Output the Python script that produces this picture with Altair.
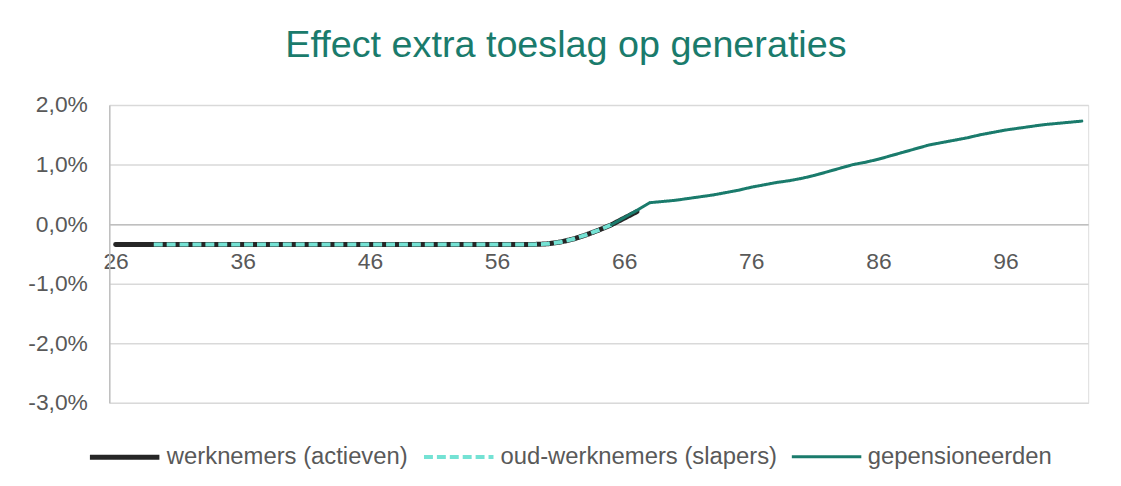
import altair as alt
import pandas as pd

# ---- data ----
series_names = ["werknemers (actieven)", "oud-werknemers (slapers)", "gepensioneerden"]

werknemers_ages = list(range(26, 68))
werknemers_vals = [-0.34] * 34 + [-0.33, -0.30, -0.25, -0.18, -0.10, -0.01, 0.10, 0.21]

slapers_ages = list(range(29, 66))
slapers_vals = [-0.34] * 31 + [-0.33, -0.30, -0.25, -0.18, -0.10, -0.01]

gepens_ages = list(range(65, 103))
gepens_vals = [-0.01, 0.11, 0.23, 0.36, 0.38, 0.40, 0.43, 0.46, 0.49, 0.53,
               0.57, 0.62, 0.66, 0.70, 0.73, 0.77, 0.82, 0.88, 0.94, 1.00,
               1.04, 1.09, 1.15, 1.21, 1.27, 1.33, 1.37, 1.41, 1.45, 1.50,
               1.54, 1.58, 1.61, 1.64, 1.67, 1.69, 1.71, 1.73]

x_ticks = [26, 36, 46, 56, 66, 76, 86, 96]
y_ticks = [-3, -2, -1, 0, 1, 2]

colors = ["#262626", "#74E2D4", "#1A7B6C"]
dashes = [[1, 0], [9, 4], [1, 0]]
widths = [5, 3, 3.5]

rows = []
for name, ages, vals in zip(series_names,
                            [werknemers_ages, slapers_ages, gepens_ages],
                            [werknemers_vals, slapers_vals, gepens_vals]):
    for a, v in zip(ages, vals):
        rows.append({"serie": name, "leeftijd": a, "effect": v})
df = pd.DataFrame(rows)

FONT = "Liberation Sans"
GREY = "#595959"

x_enc = alt.X("leeftijd:Q",
              scale=alt.Scale(domain=[25.5, 102.5], nice=False, zero=False),
              axis=alt.Axis(values=x_ticks, title=None, orient="bottom", offset=-180,
                            grid=False, ticks=False, tickSize=0, labelPadding=27,
                            domainColor="#BFBFBF", domainWidth=1.5,
                            labelFont=FONT, labelFontSize=23, labelColor=GREY))
y_enc = alt.Y("effect:Q",
              scale=alt.Scale(domain=[-3, 2], nice=False),
              axis=alt.Axis(values=y_ticks, title=None, ticks=False, tickSize=0,
                            labelPadding=22, gridColor="#D9D9D9", gridWidth=1.5,
                            domainColor="#BFBFBF", domainWidth=1.5,
                            labelExpr="replace(replace(format(datum.value, '.1f'), '.', ','), '\u2212', '-') + '%'",
                            labelFont=FONT, labelFontSize=23, labelColor=GREY))

color_enc = alt.Color("serie:N",
                      scale=alt.Scale(domain=series_names, range=colors),
                      legend=alt.Legend(title=None, orient="none", direction="horizontal",
                                        legendX=-22, legendY=317, symbolType="stroke",
                                        symbolSize=4900, labelFont=FONT, labelFontSize=24,
                                        labelColor=GREY, labelOffset=5, columnPadding=8,
                                        labelLimit=500, padding=0))
dash_enc = alt.StrokeDash("serie:N",
                          scale=alt.Scale(domain=series_names, range=dashes),
                          legend=None)
width_enc = alt.StrokeWidth("serie:N",
                            scale=alt.Scale(domain=series_names, range=widths),
                            legend=None)

layers = []
for name in series_names:
    layers.append(
        alt.Chart(df).transform_filter(alt.datum.serie == name)
        .mark_line(strokeCap="butt" if name == series_names[1] else "round",
                   strokeJoin="round")
        .encode(x=x_enc, y=y_enc, color=color_enc, strokeDash=dash_enc,
                strokeWidth=width_enc)
    )

chart = alt.layer(*layers).properties(
    width=986, height=300,
    padding={"left": 102, "top": 96, "right": 25, "bottom": 80},
    autosize=alt.AutoSizeParams(type="none"),
    title=alt.TitleParams("Effect extra toeslag op generaties", font=FONT, fontSize=38,
                          fontWeight="normal", color="#1A7B6C", anchor="middle",
                          frame="group", dx=-33, offset=29),
).configure_view(strokeWidth=0).configure(background="white")

chart.save("out.html", embed_options={"renderer": "svg", "actions": False})
